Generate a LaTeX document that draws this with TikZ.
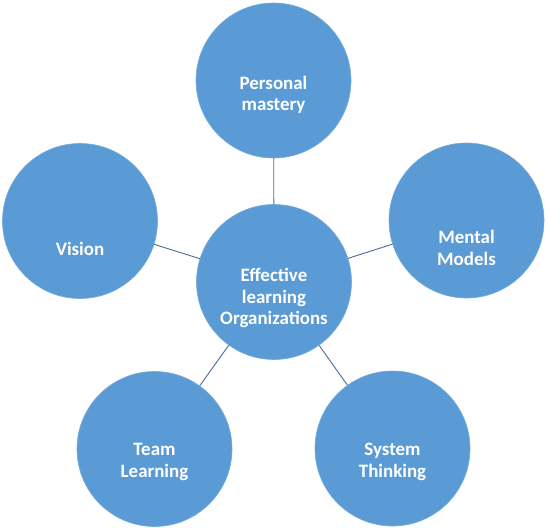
\documentclass[tikz,border=0pt]{standalone}
\usepackage{fontspec}
\setmainfont{Carlito}
\definecolor{circfill}{HTML}{5B9BD5}
\definecolor{linkcol}{HTML}{4A6C94}
\begin{document}
\begin{tikzpicture}[x=1bp,y=-1bp,
  bubble/.style={circle,fill=circfill,draw=circfill!85!white,line width=0.6bp,minimum size=155bp,inner sep=0pt},
  btext/.style={text=white,font=\fontsize{19}{21.5}\selectfont\bfseries,align=center,inner sep=0pt},
  link/.style={draw=linkcol,line width=0.9bp}]
\useasboundingbox (0,0) rectangle (549,528);
\node[bubble] (c) at (274,282) {};
\node[bubble] (pm) at (273.5,80.5) {};
\node[bubble] (vi) at (80,221) {};
\node[bubble] (mm) at (466.5,220.5) {};
\node[bubble] (tl) at (154.5,449) {};
\node[bubble] (st) at (392.5,448.5) {};
\draw[link] (c) -- (pm);
\draw[link] (c) -- (vi);
\draw[link] (c) -- (mm);
\draw[link] (c) -- (tl);
\draw[link] (c) -- (st);
\node[btext] (ct) at (274,298) {Effective\\learning\\Organizations};
\node[btext] (pmt) at (273.5,95) {Personal\\mastery};
\node[btext] (vit) at (80,249) {Vision};
\node[btext] (mmt) at (466.5,248) {Mental\\Models};
\node[btext] (tlt) at (154.5,462) {Team\\Learning};
\node[btext] (stt) at (392.5,462) {System\\Thinking};
\end{tikzpicture}
\end{document}
